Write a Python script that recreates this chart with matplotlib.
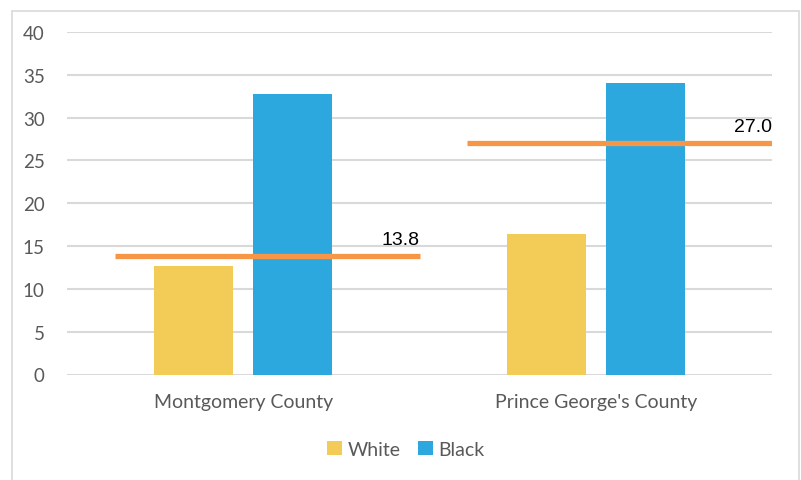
import numpy as np
import matplotlib.pyplot as plt
from matplotlib.patches import Rectangle

counties = ['Montgomery County', "Prince George's County"]
white = [12.7, 16.4]
black = [32.8, 34.0]
county_avg = [13.8, 27.0]
yticks = [0, 5, 10, 15, 20, 25, 30, 35, 40]

c_white = '#F2CC57'
c_black = '#2DA8DF'
c_avg = '#F79646'

fig = plt.figure(figsize=(8.01, 4.81), dpi=100)
fig.patches.append(Rectangle((12 / 801, -0.05), 787 / 801, 1 - 12 / 481 + 0.05,
                             transform=fig.transFigure, fill=False,
                             edgecolor='#D9D9D9', linewidth=1.2))

ax = fig.add_axes([67 / 801, 1 - 375.5 / 481, 705 / 801, 342.5 / 481])

x = np.arange(len(counties))
w = 0.224
gap = 0.057
ax.bar(x - (w + gap) / 2, white, w, color=c_white, label='White', zorder=2)
ax.bar(x + (w + gap) / 2, black, w, color=c_black, label='Black', zorder=2)

# county average lines with their labels
for xi, v in zip(x, county_avg):
    ax.hlines(v, xi - 0.365, xi + 0.5, color=c_avg, linewidth=3.8, zorder=3)
    ax.text(xi + 0.5, v + 1.0, f'{v:.1f}', ha='right', va='bottom',
            fontsize=14, family='Liberation Sans', color='black', zorder=4)

ax.set_xlim(-0.5, 1.5)
ax.set_ylim(0, 40)
ax.set_yticks(yticks)
ax.set_xticks(x)
ax.set_xticklabels(counties)
ax.grid(axis='y', color='#D9D9D9', linewidth=1.5, zorder=0)
ax.set_axisbelow(True)
for s in ax.spines.values():
    s.set_visible(False)
ax.tick_params(length=0, labelcolor='#595959', labelsize=13.5)
ax.tick_params(axis='y', pad=16)
ax.tick_params(axis='x', labelsize=14, pad=13)
for lab in ax.get_xticklabels() + ax.get_yticklabels():
    lab.set_family('Lato')

leg = ax.legend(loc='center', bbox_to_anchor=(406 / 801, 1 - 450 / 481),
                bbox_transform=fig.transFigure, ncol=2, frameon=False,
                handlelength=0.75, handleheight=0.75, handletextpad=0.3,
                columnspacing=0.9, prop={'family': 'Lato', 'size': 14})
for t in leg.get_texts():
    t.set_color('#595959')

fig.savefig('out.png', dpi=100)
